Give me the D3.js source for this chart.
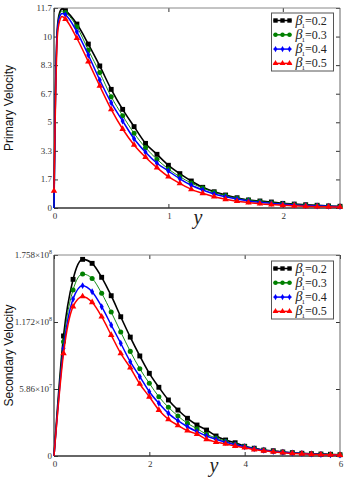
<!DOCTYPE html>
<html lang="en">
<head>
<meta charset="UTF-8">
<script src="https://cdnjs.cloudflare.com/ajax/libs/d3/7.8.5/d3.min.js"></script>
<title>Velocity profiles</title>
<style>
    body{
        margin: 0;
        background: #fff;
    }
    .tick-label{
        font-family: 'Liberation Serif', 'Times New Roman', serif;
        font-size: 9px;
        fill: #333;
    }
    .axis-title{
        font-family: 'Liberation Sans', Arial, sans-serif;
        font-size: 12px;
        fill: #111;
    }
    .x-title{
        font-family: 'Liberation Serif', 'Times New Roman', serif;
        font-style: italic;
        font-size: 20px;
        fill: #222;
    }
    .legend-text{
        font-family: 'Liberation Serif', 'Times New Roman', serif;
        font-size: 12px;
        fill: #222;
    }
</style>
</head>
<body>
<svg id="chart" width="348" height="480"></svg>
<script>
// legend entries
const betaLabels = ['0.2', '0.3', '0.4', '0.5']

// primary velocity (top panel)
const topX = [0, 0.01, 0.03, 0.05, 0.07, 0.1, 0.2, 0.3, 0.4, 0.5, 0.6, 0.7, 0.8, 0.9, 1.0, 1.1, 1.2, 1.3, 1.4, 1.5, 1.6, 1.7, 1.8, 1.9, 2.0, 2.1, 2.2, 2.3, 2.4, 2.5]
const topB02 = [0, 5.5, 10.6, 11.45, 11.65, 11.54, 10.76, 9.59, 8.31, 6.94, 5.77, 4.76, 3.78, 3.14, 2.50, 2.01, 1.58, 1.21, 0.95, 0.76, 0.60, 0.47, 0.41, 0.35, 0.27, 0.23, 0.19, 0.16, 0.12, 0.10]
const topB03 = [0, 5.4, 10.5, 11.35, 11.52, 11.43, 10.60, 9.24, 7.92, 6.51, 5.40, 4.37, 3.53, 2.85, 2.28, 1.83, 1.46, 1.17, 0.92, 0.73, 0.57, 0.46, 0.38, 0.31, 0.25, 0.21, 0.17, 0.14, 0.11, 0.09]
const topB04 = [0, 5.3, 10.4, 11.2, 11.38, 11.30, 10.31, 8.95, 7.49, 6.16, 5.09, 4.05, 3.26, 2.62, 2.16, 1.71, 1.33, 1.05, 0.82, 0.66, 0.52, 0.41, 0.33, 0.27, 0.22, 0.18, 0.14, 0.12, 0.10, 0.08]
const topB05 = [1.0, 5.0, 10.1, 10.95, 11.2, 11.05, 9.93, 8.56, 7.14, 5.77, 4.62, 3.69, 2.97, 2.36, 1.83, 1.44, 1.09, 0.86, 0.66, 0.51, 0.40, 0.32, 0.25, 0.20, 0.16, 0.13, 0.10, 0.08, 0.07, 0.06]
const topYTicks = [0, 1.6714, 3.3429, 5.0143, 6.6857, 8.3571, 10.0286, 11.7]
const topYLabels = ['0', '1.7', '3.3', '5', '6.7', '8.3', '10', '11.7']
const topXTicks = [0, 1, 2]

// secondary velocity (bottom panel), values in units of 1e8
const botX = [0, 0.2, 0.4, 0.6, 0.8, 1.0, 1.2, 1.4, 1.6, 1.8, 2.0, 2.2, 2.4, 2.6, 2.8, 3.0, 3.2, 3.4, 3.6, 3.8, 4.0, 4.2, 4.4, 4.6, 4.8, 5.0, 5.2, 5.4, 5.6, 5.8, 6.0]
const botB02 = [0, 1.05, 1.545, 1.72, 1.685, 1.563, 1.402, 1.218, 1.04, 0.875, 0.723, 0.601, 0.490, 0.402, 0.330, 0.271, 0.227, 0.175, 0.140, 0.116, 0.085, 0.068, 0.052, 0.046, 0.035, 0.029, 0.024, 0.020, 0.017, 0.015, 0.011]
const botB03 = [0, 1.0, 1.452, 1.592, 1.553, 1.423, 1.259, 1.085, 0.915, 0.763, 0.636, 0.518, 0.426, 0.350, 0.286, 0.239, 0.190, 0.157, 0.129, 0.102, 0.085, 0.066, 0.052, 0.042, 0.034, 0.028, 0.022, 0.018, 0.015, 0.012, 0.010]
const botB04 = [0, 0.942, 1.373, 1.49, 1.437, 1.306, 1.146, 0.986, 0.825, 0.694, 0.562, 0.461, 0.373, 0.309, 0.256, 0.213, 0.175, 0.146, 0.120, 0.099, 0.081, 0.063, 0.050, 0.040, 0.032, 0.026, 0.021, 0.017, 0.014, 0.011, 0.009]
const botB05 = [0, 0.898, 1.306, 1.395, 1.344, 1.218, 1.058, 0.897, 0.772, 0.630, 0.518, 0.402, 0.321, 0.268, 0.221, 0.192, 0.146, 0.122, 0.105, 0.087, 0.073, 0.056, 0.045, 0.036, 0.029, 0.023, 0.019, 0.015, 0.012, 0.010, 0.008]
const botYTicks = [0, 0.586, 1.172, 1.758]
const botYMant = ['0', '5.86', '1.172', '1.758']
const botYExp = ['', '7', '8', '8']
const botXTicks = [0, 2, 4, 6]

const styles = [
    {color: '#000000', width: 1.6, symbol: d3.symbolSquare, size: 24},
    {color: '#008000', width: 0.9, symbol: d3.symbolCircle, size: 20},
    {color: '#0000ff', width: 1.5, symbol: d3.symbolDiamond, size: 14},
    {color: '#ff0000', width: 1.5, symbol: d3.symbolTriangle, size: 18}
]

const svg = d3.select('#chart')

function drawPanel(cfg){
    const x = d3.scaleLinear().domain(cfg.xDomain).range([cfg.left, cfg.right])
    const y = d3.scaleLinear().domain(cfg.yDomain).range([cfg.bottom, cfg.top])
    const g = svg.append('g')

    // inward ticks on all four sides
    g.append('g')
        .attr('transform', 'translate(0,' + cfg.bottom + ')')
        .call(d3.axisBottom(x).tickValues(cfg.xTicks).tickSizeInner(-4).tickSizeOuter(0).tickFormat(''))
    g.append('g')
        .attr('transform', 'translate(0,' + cfg.top + ')')
        .call(d3.axisTop(x).tickValues(cfg.xTicks).tickSizeInner(-4).tickSizeOuter(0).tickFormat(''))
    g.append('g')
        .attr('transform', 'translate(' + cfg.left + ',0)')
        .call(d3.axisLeft(y).tickValues(cfg.yTicks).tickSizeInner(-4).tickSizeOuter(0).tickFormat(''))
    g.append('g')
        .attr('transform', 'translate(' + cfg.right + ',0)')
        .call(d3.axisRight(y).tickValues(cfg.yTicks).tickSizeInner(-4).tickSizeOuter(0).tickFormat(''))
    g.selectAll('.domain').remove()
    g.selectAll('.tick line').attr('stroke', '#333')

    // frame
    g.append('line').attr('x1', cfg.left).attr('x2', cfg.right).attr('y1', cfg.top).attr('y2', cfg.top)
        .attr('stroke', '#888').attr('stroke-width', 1)
    g.append('line').attr('x1', cfg.right).attr('x2', cfg.right).attr('y1', cfg.top).attr('y2', cfg.bottom)
        .attr('stroke', '#666').attr('stroke-width', 1)
    g.append('line').attr('x1', cfg.left).attr('x2', cfg.left).attr('y1', cfg.top).attr('y2', cfg.bottom)
        .attr('stroke', '#333').attr('stroke-width', 1.2)
    g.append('line').attr('x1', cfg.left).attr('x2', cfg.right).attr('y1', cfg.bottom).attr('y2', cfg.bottom)
        .attr('stroke', '#333').attr('stroke-width', 1.5)

    // x tick labels
    g.selectAll('.xlab')
        .data(cfg.xTicks)
        .enter()
        .append('text')
        .attr('class', 'tick-label')
        .attr('x', (d) => x(d) + 1)
        .attr('y', cfg.bottom + 11)
        .attr('text-anchor', 'middle')
        .text((d) => d)

    // y tick labels
    const ylab = g.selectAll('.ylab')
        .data(cfg.yTicks)
        .enter()
        .append('text')
        .attr('class', 'tick-label')
        .attr('x', cfg.left - 2)
        .attr('y', (d) => y(d) + 3)
        .attr('text-anchor', 'end')
    ylab.each(function(d, i){
        const t = d3.select(this)
        if (cfg.yExp && cfg.yExp[i]){
            t.append('tspan').text(cfg.yLabels[i] + '\u00d710')
            t.append('tspan').attr('dy', -4).attr('font-size', '6px').text(cfg.yExp[i])
        } else {
            t.text(cfg.yLabels[i])
        }
    })

    // series lines and markers
    const line = d3.line()
        .x((d) => x(d[0]))
        .y((d) => y(d[1]))
        .curve(d3.curveMonotoneX)

    cfg.series.forEach((vals, i) => {
        const st = styles[i]
        const pts = cfg.xs.map((v, j) => [v, vals[j]])
        g.append('path')
            .datum(pts)
            .attr('d', line)
            .attr('fill', 'none')
            .attr('stroke', st.color)
            .attr('stroke-width', st.width)
        g.selectAll('.m' + i)
            .data(pts.filter((p) => p[0] >= cfg.markerStart || (p[0] === 0 && p[1] > 0)))
            .enter()
            .append('path')
            .attr('d', d3.symbol().type(st.symbol).size(st.size))
            .attr('transform', (p) => 'translate(' + x(p[0]) + ',' + y(p[1]) + ')')
            .attr('fill', st.color)
    })

    // axis titles
    g.append('text')
        .attr('class', 'axis-title')
        .attr('transform', 'translate(13,' + (cfg.top + cfg.bottom) / 2 + ') rotate(-90)')
        .attr('text-anchor', 'middle')
        .text(cfg.yTitle)
    g.append('text')
        .attr('class', 'x-title')
        .attr('x', cfg.xTitleX)
        .attr('y', cfg.bottom + 16)
        .attr('text-anchor', 'middle')
        .text('y')

    // legend
    const lg = g.append('g').attr('transform', 'translate(' + cfg.legend[0] + ',' + cfg.legend[1] + ')')
    lg.append('rect')
        .attr('width', 62)
        .attr('height', 58)
        .attr('fill', '#fff')
        .attr('stroke', '#555')
        .attr('stroke-width', 1)
    betaLabels.forEach((lab, i) => {
        const st = styles[i]
        const ly = 7.5 + i * 14.3
        lg.append('line')
            .attr('x1', 2).attr('x2', 20)
            .attr('y1', ly).attr('y2', ly)
            .attr('stroke', st.color)
            .attr('stroke-width', 1.5)
        ;[4, 11, 18].forEach((mx) => {
            lg.append('path')
                .attr('d', d3.symbol().type(st.symbol).size(st.size * 0.8))
                .attr('transform', 'translate(' + mx + ',' + ly + ')')
                .attr('fill', st.color)
        })
        const t = lg.append('text')
            .attr('class', 'legend-text')
            .attr('x', 24)
            .attr('y', ly + 4)
        t.append('tspan').attr('font-style', 'italic').attr('font-size', '14px').text('\u03b2')
        t.append('tspan').attr('font-size', '7px').attr('dy', 3).attr('dx', -1).text('1')
        t.append('tspan').attr('dy', -3).text('=' + lab)
    })
}

drawPanel({
    left: 54, right: 340, top: 8, bottom: 208,
    xDomain: [0, 2.5], yDomain: [0, 11.7],
    xTicks: topXTicks, yTicks: topYTicks, yLabels: topYLabels,
    xs: topX, series: [topB02, topB03, topB04, topB05],
    markerStart: 0.1,
    yTitle: 'Primary Velocity', xTitleX: 198,
    legend: [271.5, 13]
})

drawPanel({
    left: 54, right: 340, top: 255, bottom: 456,
    xDomain: [0, 6], yDomain: [0, 1.758],
    xTicks: botXTicks, yTicks: botYTicks, yLabels: botYMant, yExp: botYExp,
    xs: botX, series: [botB02, botB03, botB04, botB05],
    markerStart: 0.1,
    yTitle: 'Secondary Velocity', xTitleX: 214,
    legend: [271.5, 261]
})
</script>
</body>
</html>
